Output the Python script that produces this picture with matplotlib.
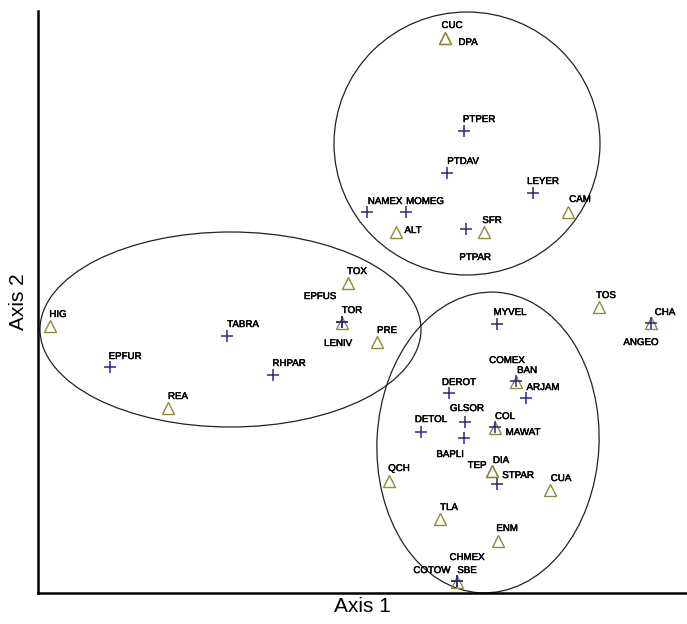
import matplotlib
matplotlib.use("Agg")
import matplotlib.pyplot as plt
from matplotlib.patches import Ellipse
import matplotlib.patheffects as pe

plt.rcParams['font.family'] = ['Liberation Sans', 'DejaVu Sans']

# ---- data (ordination scores, arbitrary units) ----
site_names = ["CUC", "DPA", "CAM", "ALT", "SFR", "TOX", "TOR", "PRE", "HIG", "REA",
              "TOS", "CHA", "BAN", "COL", "DIA", "TEP", "QCH", "CUA", "TLA", "ENM", "SBE"]
site_x = [407, 407, 530, 358, 446, 310, 304, 339, 12, 130,
          561, 613, 478, 457, 454, 454, 351, 512, 402, 460, 419]
site_y = [555, 555, 381, 361, 361, 310, 270, 251, 267, 185,
          286, 270, 211, 165, 122, 122, 112, 103, 74, 52, 11]

species_names = ["PTPER", "PTDAV", "LEYER", "NAMEX", "MOMEG", "PTPAR", "TABRA", "EPFUR",
                 "RHPAR", "EPFUS", "LENIV", "MYVEL", "ANGEO", "COMEX", "ARJAM", "DEROT",
                 "GLSOR", "DETOL", "BAPLI", "MAWAT", "STPAR", "CHMEX", "COTOW"]
species_x = [426, 409, 495, 329, 368, 428, 189, 72,
             235, 304, 304, 459, 613, 478, 488, 411,
             427, 383, 426, 457, 459, 419, 419]
species_y = [462, 420, 400, 381, 381, 364, 257, 226,
             218, 271, 271, 269, 270, 212, 195, 200,
             171, 161, 155, 166, 109, 12, 12]

# groups: (centre x, centre y, width, height, angle)
group_cx = [429, 192.5, 450]
group_cy = [449.5, 263.5, 150.5]
group_w = [266, 381, 222]
group_h = [263, 195, 301]
group_angle = [0, 0, -3]

# ---- label placement (pixel offsets from the marker) ----
label_offsets = {
    "CUC": (7, 13), "DPA": (23, -4), "CAM": (12, 13), "ALT": (17, 2), "SFR": (8, 12),
    "TOX": (9, 12), "TOR": (10, 13), "PRE": (10, 12), "HIG": (8, 12), "REA": (10, 12),
    "TOS": (7, 12), "CHA": (14, 11), "BAN": (11, 12), "COL": (10, 12), "DIA": (9, 11),
    "TEP": (-15, 6), "QCH": (10, 13), "CUA": (11, 12), "TLA": (9, 12), "ENM": (9, 13),
    "SBE": (10, 12),
    "PTPER": (15, 12), "PTDAV": (16, 12), "LEYER": (10, 12), "NAMEX": (18, 11),
    "MOMEG": (19, 11), "PTPAR": (9, -28), "TABRA": (16, 12), "EPFUR": (15, 11),
    "RHPAR": (16, 12), "EPFUS": (-22, 26), "LENIV": (-4, -21), "MYVEL": (13, 12),
    "ANGEO": (-10, -19), "COMEX": (-9, 21), "ARJAM": (17, 11), "DEROT": (10, 11),
    "GLSOR": (2, 14), "DETOL": (10, 13), "BAPLI": (-14, -16), "MAWAT": (28, -5),
    "STPAR": (21, 9), "CHMEX": (10, 24), "COTOW": (-25, 11),
}

W, H, DPI = 687, 624, 100
fig = plt.figure(figsize=(W / DPI, H / DPI), dpi=DPI)
left_px, bottom_px, right_px, top_px = 38, 31, 687, 613
ax = fig.add_axes([left_px / W, bottom_px / H, (right_px - left_px) / W, (top_px - bottom_px) / H])
ax.set_xlim(0, right_px - left_px)
ax.set_ylim(0, top_px - bottom_px)

for cx, cy, w, h, a in zip(group_cx, group_cy, group_w, group_h, group_angle):
    ax.add_patch(Ellipse((cx, cy), w, h, angle=a, fill=False, edgecolor='#222222', linewidth=0.9))

tri_color = '#8c8c3a'
plus_color = '#2a2a80'
ax.plot(site_x, site_y, linestyle='none', marker='^', markersize=8.5,
        markerfacecolor='none', markeredgecolor=tri_color, markeredgewidth=1.0)
ax.plot(species_x, species_y, linestyle='none', marker='+', markersize=9,
        color=plus_color, markeredgewidth=1.1)

bolden = [pe.withStroke(linewidth=0.35, foreground='black')]
for names, xs, ys in ((site_names, site_x, site_y), (species_names, species_x, species_y)):
    for n, x, y in zip(names, xs, ys):
        dx, dy = label_offsets[n]
        ax.annotate(n, (x, y), xytext=(dx, dy), textcoords='offset pixels',
                    ha='center', va='center', fontsize=7, color='black',
                    path_effects=bolden)

for s in ('top', 'right'):
    ax.spines[s].set_visible(False)
for s in ('left', 'bottom'):
    ax.spines[s].set_linewidth(1.8)
    ax.spines[s].set_color('black')
ax.set_xticks([])
ax.set_yticks([])
ax.set_xlabel('Axis 1', fontsize=15, labelpad=3)
ax.set_ylabel('Axis 2', fontsize=15, labelpad=7)

fig.savefig('out.png', dpi=DPI)
